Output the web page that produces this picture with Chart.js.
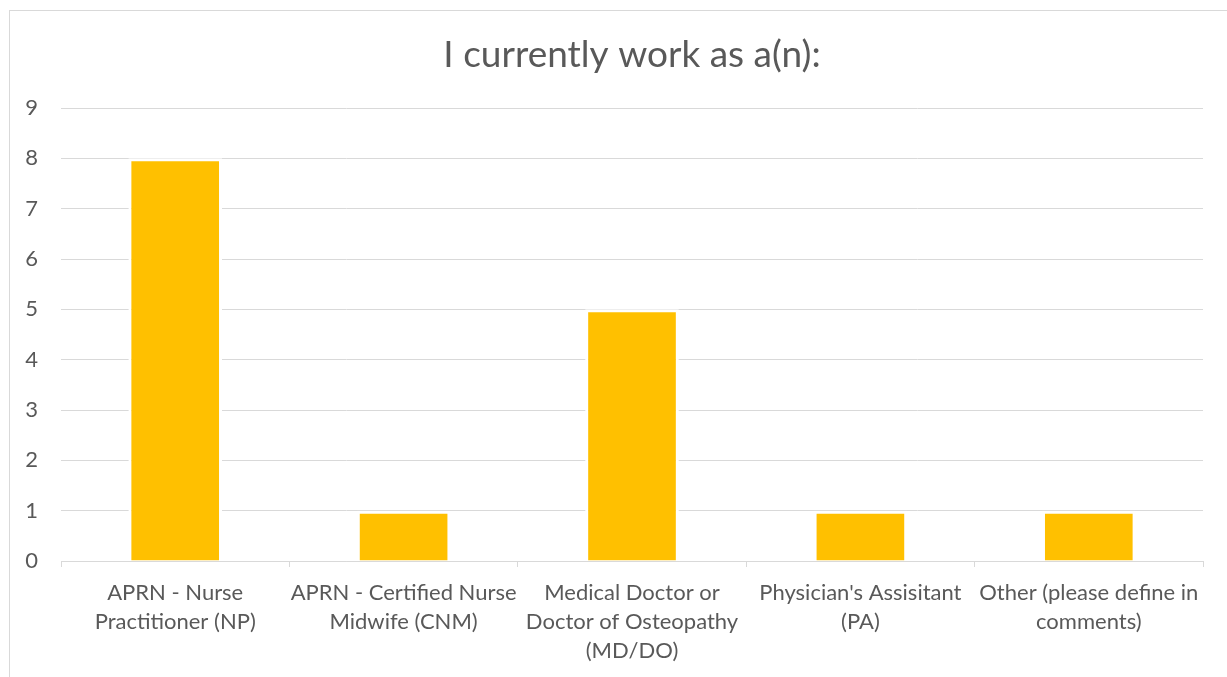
<!DOCTYPE html>
<html>
<head>
<meta charset="utf-8">
<script src="https://cdn.jsdelivr.net/npm/chart.js@4/dist/chart.umd.min.js"></script>
<style>
  body { margin: 0; background: #fff; }
  #frame { position: absolute; left: 9px; top: 10px; width: 1300px; height: 800px;
           border-top: 1px solid #d9d9d9; border-left: 1px solid #d9d9d9; }
  #wrap { position: absolute; left: 0; top: 0; width: 1227px; height: 677px; }
</style>
</head>
<body>
<div id="frame"></div>
<div id="wrap"><canvas id="workChart"></canvas></div>
<script>
// survey answers
var categories = [
	["APRN - Nurse", "Practitioner (NP)"],
	["APRN - Certified Nurse", "Midwife (CNM)"],
	["Medical Doctor or", "Doctor of Osteopathy", "(MD/DO)"],
	["Physician's Assisitant", "(PA)"],
	["Other (please define in", "comments)"]
];
var counts = [8, 1, 5, 1, 1];
var yTicks = [0, 1, 2, 3, 4, 5, 6, 7, 8, 9];

var textColor = '#595959';
var lineColor = '#d9d9d9';
var fontFamily = 'Lato, "Open Sans", sans-serif';

// centre the title over the plot area, like the original
var titleOverPlot = {
	id: 'titleOverPlot',
	afterLayout: function(chart) {
		if (chart.titleBlock) {
			chart.titleBlock.left = chart.chartArea.left;
			chart.titleBlock.right = chart.chartArea.right;
		}
	}
};

var ctx = document.getElementById('workChart').getContext('2d');
window.myBar = new Chart(ctx, {
	type: 'bar',
	data: {
		labels: categories,
		datasets: [{
			label: 'Count',
			data: counts,
			backgroundColor: '#FFC000',
			borderColor: '#ffffff',
			borderWidth: 3,
			categoryPercentage: 1,
			barPercentage: 0.41
		}]
	},
	plugins: [titleOverPlot],
	options: {
		responsive: true,
		maintainAspectRatio: false,
		animation: false,
		layout: {
			padding: { left: 0, right: 24, top: 0, bottom: 0 }
		},
		plugins: {
			legend: { display: false },
			tooltip: { enabled: false },
			title: {
				display: true,
				text: 'I currently work as a(n):',
				color: textColor,
				font: { family: fontFamily, size: 37, weight: 'normal', lineHeight: 1.2 },
				padding: { top: 33, bottom: 30.6 }
			}
		},
		scales: {
			x: {
				grid: {
					offset: true,
					drawOnChartArea: false,
					drawTicks: true,
					tickLength: 6,
					color: lineColor
				},
				border: { display: true, color: lineColor, width: 1 },
				ticks: {
					color: textColor,
					padding: 11,
					maxRotation: 0,
					autoSkip: false,
					font: { family: fontFamily, size: 22, lineHeight: 1.32 }
				},
				afterFit: function(scale) { scale.height = 116; }
			},
			y: {
				min: 0,
				max: 9,
				afterBuildTicks: function(scale) {
					scale.ticks = yTicks.map(function(v) { return { value: v }; });
				},
				grid: { color: lineColor, drawTicks: false },
				border: { display: false },
				ticks: {
					color: textColor,
					padding: 23,
					font: { family: fontFamily, size: 22 }
				},
				afterFit: function(scale) { scale.width = 61; }
			}
		}
	}
});
</script>
</body>
</html>
